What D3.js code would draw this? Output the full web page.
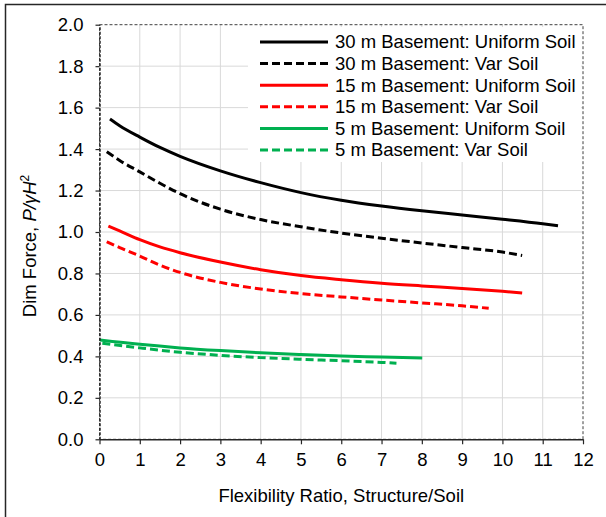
<!DOCTYPE html>
<html>
<head>
<meta charset="utf-8">
<script src="https://cdn.jsdelivr.net/npm/d3@7"></script>
<style>
  body { margin: 0; background: #fff; }
  svg { display: block; font-family: "Liberation Sans", Arial, sans-serif; }
</style>
</head>
<body>
<script>
// series data (x = flexibility ratio, y = dim force)
let uni30X = [0.26, 0.5, 1, 1.5, 2, 3, 4, 5, 6, 7, 8, 9, 10, 11, 11.38]
let uni30Y = [1.545, 1.513, 1.458, 1.408, 1.365, 1.295, 1.238, 1.190, 1.153, 1.125, 1.102, 1.082, 1.062, 1.040, 1.030]
let var30X = [0.18, 0.5, 1, 1.5, 2, 3, 4, 5, 6, 7, 8, 9, 10, 10.49]
let var30Y = [1.387, 1.345, 1.290, 1.235, 1.185, 1.110, 1.060, 1.025, 0.995, 0.970, 0.947, 0.925, 0.903, 0.887]
let uni15X = [0.22, 0.5, 1, 1.5, 2, 3, 4, 5, 6, 7, 8, 9, 10, 10.49]
let uni15Y = [1.028, 1.005, 0.963, 0.928, 0.900, 0.855, 0.818, 0.790, 0.770, 0.753, 0.740, 0.728, 0.714, 0.706]
let var15X = [0.18, 0.5, 1, 1.5, 2, 3, 4, 5, 6, 7, 8, 9, 9.66]
let var15Y = [0.953, 0.925, 0.884, 0.840, 0.805, 0.757, 0.725, 0.703, 0.687, 0.672, 0.658, 0.644, 0.632]
let uni5X = [0.01, 1, 2, 3, 4, 5, 6, 7, 8.01]
let uni5Y = [0.479, 0.458, 0.441, 0.428, 0.417, 0.409, 0.402, 0.397, 0.392]
let var5X = [0.07, 1, 2, 3, 4, 5, 6, 7, 7.37]
let var5Y = [0.463, 0.441, 0.420, 0.405, 0.394, 0.386, 0.379, 0.371, 0.367]

let seriesNames = ["30 m Basement: Uniform Soil", "30 m Basement: Var Soil",
                   "15 m Basement: Uniform Soil", "15 m Basement: Var Soil",
                   "5 m Basement: Uniform Soil", "5 m Basement: Var Soil"]
let xTicks = [0, 1, 2, 3, 4, 5, 6, 7, 8, 9, 10, 11, 12]
let yTicks = [0, 0.2, 0.4, 0.6, 0.8, 1.0, 1.2, 1.4, 1.6, 1.8, 2.0]

let width = 606
let height = 517
let plotLeft = 99.5, plotRight = 583, plotTop = 24.7, plotBottom = 439.3
let fontSize = 18.5

let colors = ["#000000", "#000000", "#ff0000", "#ff0000", "#00b050", "#00b050"]
let dashed = [false, true, false, true, false, true]

let series = [[uni30X, uni30Y], [var30X, var30Y], [uni15X, uni15Y],
              [var15X, var15Y], [uni5X, uni5Y], [var5X, var5Y]]
    .map((s, i) => ({
        name: seriesNames[i],
        color: colors[i],
        dash: dashed[i],
        points: s[0].map((x, j) => ({x: x, y: s[1][j]}))
    }))

let svg = d3.select("body")
            .append("svg")
            .attr("width", width)
            .attr("height", height)

// outer chart border (runs off the right and bottom)
svg.append("rect")
    .attr("x", 5.5).attr("y", 4.5)
    .attr("width", 640).attr("height", 560)
    .attr("fill", "none")
    .attr("stroke", "#262626")
    .attr("stroke-width", 1.5)

let xScale = d3.scaleLinear().domain([0, 12]).range([plotLeft, plotRight])
let yScale = d3.scaleLinear().domain([0, 2]).range([plotBottom, plotTop])

// gridlines
svg.append("g")
    .selectAll("line")
    .data(xTicks.slice(1, -1))
    .enter()
    .append("line")
    .attr("x1", d => xScale(d)).attr("x2", d => xScale(d))
    .attr("y1", plotTop).attr("y2", plotBottom)
    .attr("stroke", "#d9d9d9")

svg.append("g")
    .selectAll("line")
    .data(yTicks.slice(1, -1))
    .enter()
    .append("line")
    .attr("x1", plotLeft).attr("x2", plotRight)
    .attr("y1", d => yScale(d)).attr("y2", d => yScale(d))
    .attr("stroke", "#d9d9d9")

// plot area border, dashed
svg.append("rect")
    .attr("x", plotLeft).attr("y", plotTop)
    .attr("width", plotRight - plotLeft).attr("height", plotBottom - plotTop)
    .attr("fill", "none")
    .attr("stroke", "#404040")
    .attr("stroke-dasharray", "3,2")

// legend box covers the grid
svg.append("rect")
    .attr("x", 248).attr("y", 27)
    .attr("width", 333).attr("height", 135)
    .attr("fill", "#fff")

let line = d3.line()
             .x(d => xScale(d.x))
             .y(d => yScale(d.y))
             .curve(d3.curveMonotoneX)

svg.append("g")
    .selectAll("path")
    .data(series)
    .enter()
    .append("path")
    .attr("d", d => line(d.points))
    .attr("fill", "none")
    .attr("stroke", d => d.color)
    .attr("stroke-width", 3)
    .attr("stroke-dasharray", d => d.dash ? "8,4" : null)

// axes
let xAxis = d3.axisBottom(xScale)
              .tickValues(xTicks)
              .tickFormat(d3.format("d"))
              .tickSize(5)
              .tickSizeOuter(0)
              .tickPadding(9)

let yAxis = d3.axisLeft(yScale)
              .tickValues(yTicks)
              .tickFormat(d3.format(".1f"))
              .tickSize(4)
              .tickSizeOuter(0)
              .tickPadding(12)

let gx = svg.append("g")
    .attr("transform", "translate(0," + plotBottom + ")")
    .call(xAxis)
gx.select(".domain").attr("stroke", "#262626").attr("stroke-width", 1.5)

let gy = svg.append("g")
    .attr("transform", "translate(" + plotLeft + ",0)")
    .call(yAxis)
gy.select(".domain").attr("stroke", "#262626").attr("stroke-width", 1.5).attr("stroke-dasharray", "3,1.5")

svg.selectAll(".tick line").attr("stroke", "#262626").attr("stroke-width", 1.2)
svg.selectAll(".tick text")
    .attr("font-size", fontSize)
    .attr("font-family", "Liberation Sans, Arial, sans-serif")
    .attr("fill", "#000")

// legend
let legend = svg.append("g")
    .selectAll("g")
    .data(series)
    .enter()
    .append("g")
    .attr("transform", (d, i) => "translate(0," + (42 + i * 21.6) + ")")

legend.append("line")
    .attr("x1", 260).attr("x2", 328)
    .attr("y1", 0).attr("y2", 0)
    .attr("stroke", d => d.color)
    .attr("stroke-width", 3)
    .attr("stroke-dasharray", d => d.dash ? "8,4" : null)

legend.append("text")
    .attr("x", 335)
    .attr("y", 0)
    .attr("dy", "0.35em")
    .attr("font-size", fontSize)
    .text(d => d.name)

// axis titles
svg.append("text")
    .attr("x", (plotLeft + plotRight) / 2)
    .attr("y", 496)
    .attr("dy", "0.35em")
    .attr("text-anchor", "middle")
    .attr("font-size", fontSize)
    .text("Flexibility Ratio, Structure/Soil")

let yTitle = svg.append("text")
    .attr("transform", "translate(30,246) rotate(-90)")
    .attr("dy", "0.35em")
    .attr("text-anchor", "middle")
    .attr("font-size", fontSize)
yTitle.append("tspan").text("Dim Force, ")
yTitle.append("tspan").attr("font-style", "italic").text("P/\u03b3H")
yTitle.append("tspan").attr("font-size", 12).attr("dy", "-0.6em").text("2")
</script>
</body>
</html>
